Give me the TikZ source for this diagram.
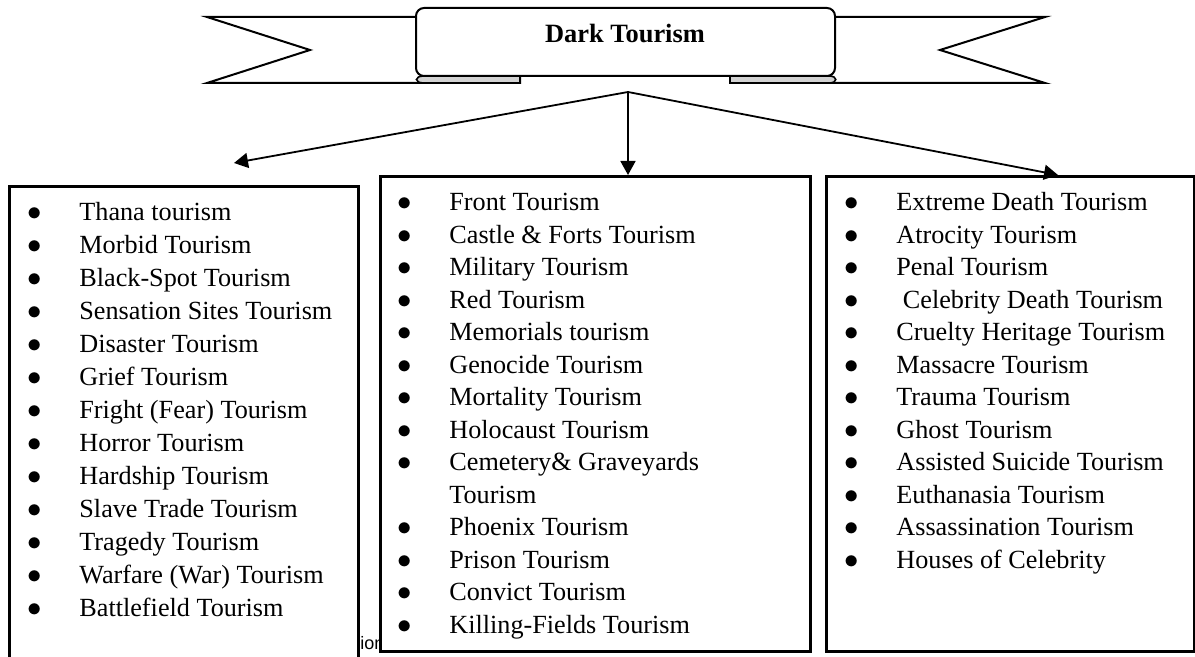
\documentclass[tikz,border=0pt]{standalone}
\usepackage{fontspec}
\setmainfont{Liberation Serif}
\newfontfamily\capfont{Liberation Sans}
\usetikzlibrary{arrows.meta}
\newcommand{\itm}[1]{\makebox[26pt][l]{{\fontsize{15}{15}\selectfont$\bullet$}}#1}
\newcommand{\cont}[1]{\makebox[26pt][l]{}#1}

\tikzset{
  banner/.style={draw, line width=1pt, fill=white},
  fold/.style={draw, line width=0.8pt, fill=gray!35},
  catbox/.style={draw, line width=1.3pt, anchor=north west, inner sep=0pt, fill=white},
  catlist/.style={anchor=north west, align=left, inner sep=0pt, font=\fontsize{13.1}{16.25}\selectfont},
  link/.style={-{Triangle[length=7pt,width=7.5pt]}, line width=0.9pt},
}

\begin{document}
\begin{tikzpicture}[x=0.5pt,y=-0.5pt]
\useasboundingbox (0,0) rectangle (1195,657);

% banner tails and folds
\draw[banner] (420,17) -- (207,17) -- (310,50) -- (207,83) -- (520,83) -- (520,70);
\draw[banner] (830,17) -- (1045,17) -- (940,50) -- (1045,83) -- (730,83) -- (730,70);
\draw[fold] (520,76) -- (520,83) -- (424,83) .. controls (414,83) and (414,76) .. (424,76) -- cycle;
\draw[fold] (730,76) -- (730,83) -- (829,83) .. controls (838,83) and (838,76) .. (829,76) -- cycle;
\draw[banner, rounded corners=4pt] (416,8) rectangle (835,76);
\node[font=\fontsize{13.2}{15}\selectfont\bfseries] (title) at (625,34) {Dark Tourism};

% caption left behind the boxes
\node[anchor=base west, inner sep=0pt, font=\capfont\fontsize{9}{11}\selectfont] (caption) at (360,649) {ion};

% boxes
\node[catbox, minimum width=174.5pt, minimum height=245pt] (leftbox) at (8,185) {};
\node[catbox, minimum width=215pt, minimum height=237.5pt] (midbox) at (379,175) {};
\node[catbox, minimum width=184pt, minimum height=237.5pt] (rightbox) at (825,175) {};

\node[catlist, font=\fontsize{13.1}{16.5}\selectfont] (leftlist) at (27,202) {%
  \itm{Thana tourism}\\
  \itm{Morbid Tourism}\\
  \itm{Black-Spot Tourism}\\
  \itm{Sensation Sites Tourism}\\
  \itm{Disaster Tourism}\\
  \itm{Grief Tourism}\\
  \itm{Fright (Fear) Tourism}\\
  \itm{Horror Tourism}\\
  \itm{Hardship Tourism}\\
  \itm{Slave Trade Tourism}\\
  \itm{Tragedy Tourism}\\
  \itm{Warfare (War) Tourism}\\
  \itm{Battlefield Tourism}};

\node[catlist] (midlist) at (397,193) {%
  \itm{Front Tourism}\\
  \itm{Castle \& Forts Tourism}\\
  \itm{Military Tourism}\\
  \itm{Red Tourism}\\
  \itm{Memorials tourism}\\
  \itm{Genocide Tourism}\\
  \itm{Mortality Tourism}\\
  \itm{Holocaust Tourism}\\
  \itm{Cemetery\& Graveyards}\\
  \cont{Tourism}\\
  \itm{Phoenix Tourism}\\
  \itm{Prison Tourism}\\
  \itm{Convict Tourism}\\
  \itm{Killing-Fields Tourism}};

\node[catlist] (rightlist) at (844,192) {%
  \itm{Extreme Death Tourism}\\
  \itm{Atrocity Tourism}\\
  \itm{Penal Tourism}\\
  \itm{\ Celebrity Death Tourism}\\
  \itm{Cruelty Heritage Tourism}\\
  \itm{Massacre Tourism}\\
  \itm{Trauma Tourism}\\
  \itm{Ghost Tourism}\\
  \itm{Assisted Suicide Tourism}\\
  \itm{Euthanasia Tourism}\\
  \itm{Assassination Tourism}\\
  \itm{Houses of Celebrity}};

% arrows
\coordinate (hub) at (628,92);
\coordinate (lefttip) at (234,163);
\coordinate (righttip) at (1058,175);
\draw[link] (hub) -- (lefttip);
\draw[link] (hub) -- (hub |- midbox.north);
\draw[link] (hub) -- (righttip);
\end{tikzpicture}
\end{document}
